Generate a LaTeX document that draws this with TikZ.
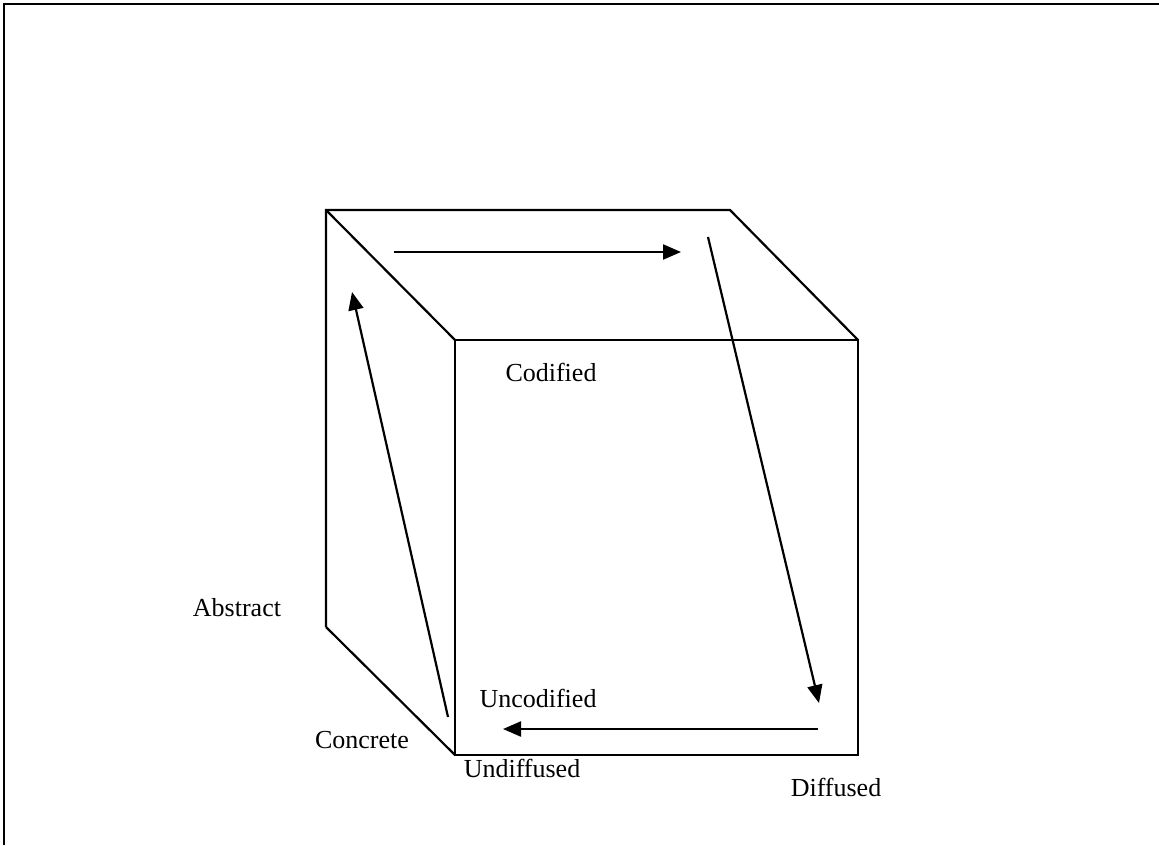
\documentclass[tikz,border=0pt]{standalone}
\usepackage{fontspec}
\setmainfont{Liberation Serif}
\usetikzlibrary{arrows.meta,calc}

\begin{document}
\begin{tikzpicture}[x=0.5pt,y=-0.5pt,
  edge/.style={line width=1.1pt},
  flow/.style={line width=1.1pt,-{Triangle[length=9pt,width=7.5pt]}},
  lbl/.style={font=\fontsize{13pt}{15pt}\selectfont,inner sep=0pt}]
\useasboundingbox (0,0) rectangle (1159,845);
% frame
\draw[line width=1.3pt] (4,845) -- (4,4) -- (1159,4);
% cube corners
\coordinate (bt) at (326,210);
\coordinate (btr) at (730,210);
\coordinate (bb) at (326,627);
\coordinate (ftl) at (455,340);
\coordinate (ftr) at (858,340);
\coordinate (fbl) at (455,755);
\coordinate (fbr) at (858,755);
\draw[edge] (bb) -- (bt) -- (btr) -- (ftr);
\draw[edge] (bt) -- (ftl);
\draw[edge] (bb) -- (fbl);
\draw[edge] (ftl) rectangle (fbr);
% arrow ends
\coordinate (a1) at (394,252);
\coordinate (a2) at (681,252);
\coordinate (b1) at (708,237);
\coordinate (b2) at (819,703);
\coordinate (c1) at (818,729);
\coordinate (c2) at (503,729);
\coordinate (d1) at (448,717);
\coordinate (d2) at (352,292);
\draw[flow] (a1) -- (a2);
\draw[flow] (b1) -- (b2);
\draw[flow] (c1) -- (c2);
\draw[flow] (d1) -- (d2);
% labels
\node[lbl] (codified) at (551,372) {Codified};
\node[lbl] (abstract) at (237,608) {Abstract};
\node[lbl] (uncodified) at (538,698) {Uncodified};
\node[lbl] (concrete) at (362,740) {Concrete};
\node[lbl] (undiffused) at (522,768) {Undiffused};
\node[lbl] (diffused) at (836,787) {Diffused};
\end{tikzpicture}
\end{document}
